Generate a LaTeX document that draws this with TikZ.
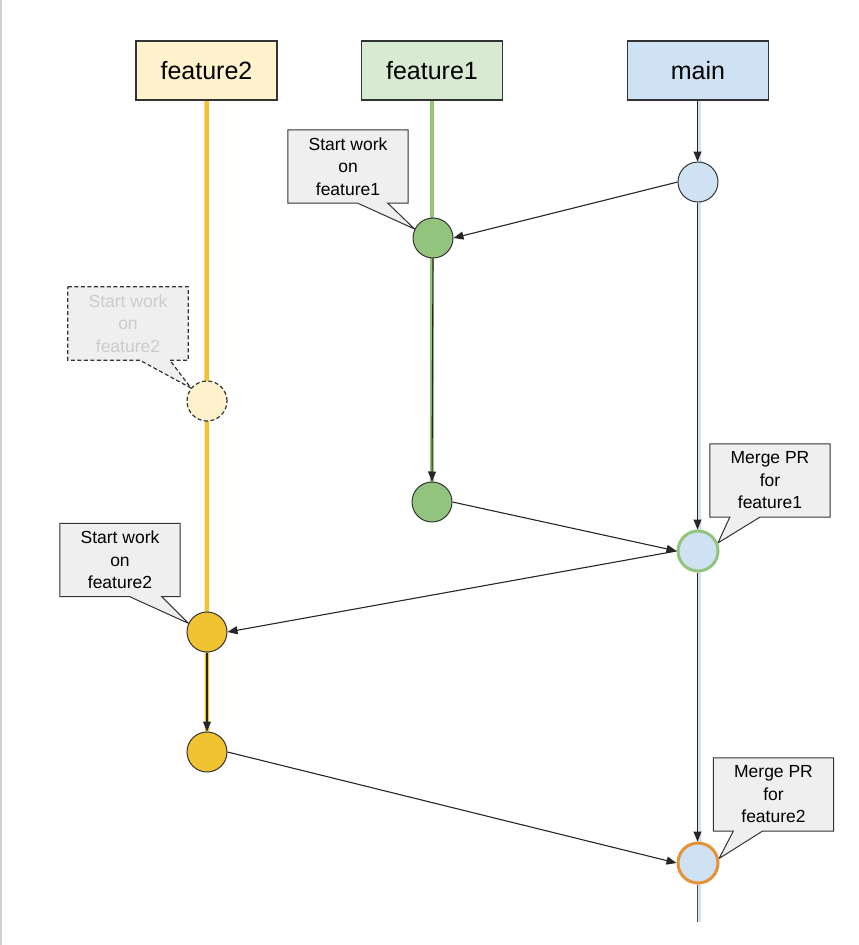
\documentclass[tikz,border=0pt]{standalone}
\usepackage{fontspec}
\setmainfont{Liberation Sans}
\usetikzlibrary{arrows.meta}
\pgfdeclarelayer{bg}
\pgfsetlayers{bg,main}
\definecolor{ylw}{HTML}{F1C232}
\definecolor{ylwlight}{HTML}{FFF2CC}
\definecolor{grn}{HTML}{93C47D}
\definecolor{grnlight}{HTML}{D9EAD3}
\definecolor{blu}{HTML}{CFE2F3}
\definecolor{org}{HTML}{E69138}
\definecolor{calloutgray}{HTML}{EFEFEF}
\definecolor{edge}{HTML}{333333}
\definecolor{ghosttext}{HTML}{CCCCCC}
\begin{document}
\begin{tikzpicture}[x=1pt,y=-1pt,
  branchbox/.style={draw=edge, line width=1.2pt, minimum width=141pt, minimum height=59pt, inner sep=0pt, font=\fontsize{25}{30}\selectfont},
  commit/.style={circle, draw=edge, line width=1pt, minimum size=40pt, inner sep=0pt},
  calltext/.style={minimum width=120pt, minimum height=73pt, inner sep=0pt, align=center, font=\fontsize{17.5}{22.5}\selectfont},
  callshape/.style={fill=calloutgray, draw=edge, line width=1pt, line join=miter},
  flow/.style={draw=black!85, line width=1.1pt, -{Triangle[length=10pt,width=8pt]}},
  plainflow/.style={draw=black!70, line width=1.1pt},
  ghost/.style={dash pattern=on 4pt off 2.5pt, line width=1.2pt}
]
\useasboundingbox (0,0) rectangle (859,945);
\draw[draw=black!18, line width=1.5pt] (1,0) -- (1,945);

% branch boxes
\node[branchbox, fill=ylwlight] (f2box) at (206.5,70.5) {feature2};
\node[branchbox, fill=grnlight] (f1box) at (432,70.5) {feature1};
\node[branchbox, fill=blu] (mbox) at (698,70.5) {main};

% commits
\node[commit, fill=blu] (m1) at (698,182) {};
\node[commit, fill=grn] (c1) at (433,238) {};
\node[commit, fill=ylwlight, ghost] (g1) at (207,401) {};
\node[commit, fill=grn] (c2) at (432,502) {};
\node[commit, fill=blu, draw=grn, line width=3pt] (mg1) at (698,551) {};
\node[commit, fill=ylw] (y1) at (207,632) {};
\node[commit, fill=ylw] (y2) at (207,752) {};
\node[commit, fill=blu, draw=org, line width=3pt] (mg2) at (698,863) {};
\coordinate (mend) at (698,922);

% branch lines
\begin{pgfonlayer}{bg}
\draw[ylw, line width=4.5pt] (f2box.south) -- (y2.north);
\draw[grn, line width=4.5pt] (f1box.south) -- (c2.north);
\draw[blu, line width=4.5pt] ([xshift=1pt]mbox.south) -- ([xshift=1pt]mend);
\end{pgfonlayer}

% flows
\draw[flow] ([xshift=-0.5pt]mbox.south) -- ([xshift=-0.5pt]m1.north);
\draw[flow] ([xshift=-0.5pt]m1.south) -- ([xshift=-0.5pt]mg1.north);
\draw[flow] ([xshift=-0.5pt]mg1.south) -- ([xshift=-0.5pt]mg2.north);
\draw[plainflow] ([xshift=-0.5pt]mg2.south) -- ([xshift=-0.5pt]mend);
\draw[flow] (c1.south) -- (c2.north);
\draw[flow] (y1.south) -- (y2.north);
\draw[flow] (m1.west) -- (c1.east);
\draw[flow] (c2.east) -- (mg1.west);
\draw[flow] (mg1.west) -- (y1.east);
\draw[flow] (y2.east) -- (mg2.west);

% callouts
\node[calltext] (t1) at (348,166.5) {Start work\\on\\feature1};
\node[calltext, text=ghosttext] (t2) at (128,323.5) {Start work\\on\\feature2};
\node[calltext] (t3) at (120,560) {Start work\\on\\feature2};
\node[calltext] (t4) at (770,480.5) {Merge PR\\for\\feature1};
\node[calltext] (t5) at (773.5,794.5) {Merge PR\\for\\feature2};
\begin{pgfonlayer}{bg}
\draw[callshape] (t1.north west) -- (t1.north east) -- (t1.south east) -- ([xshift=100pt]t1.south west) -- (c1.154) -- ([xshift=70pt]t1.south west) -- (t1.south west) -- cycle;
\draw[callshape, ghost] (t2.north west) -- (t2.north east) -- (t2.south east) -- ([xshift=102pt]t2.south west) -- (g1.141) -- ([xshift=72pt]t2.south west) -- (t2.south west) -- cycle;
\draw[callshape] (t3.north west) -- (t3.north east) -- (t3.south east) -- ([xshift=102pt]t3.south west) -- (y1.155) -- ([xshift=70pt]t3.south west) -- (t3.south west) -- cycle;
\draw[callshape] (t4.north west) -- (t4.north east) -- (t4.south east) -- ([xshift=50pt]t4.south west) -- (mg1.22) -- ([xshift=20pt]t4.south west) -- (t4.south west) -- cycle;
\draw[callshape] (t5.north west) -- (t5.north east) -- (t5.south east) -- ([xshift=49pt]t5.south west) -- (mg2.12) -- ([xshift=20pt]t5.south west) -- (t5.south west) -- cycle;
\end{pgfonlayer}
\end{tikzpicture}
\end{document}
